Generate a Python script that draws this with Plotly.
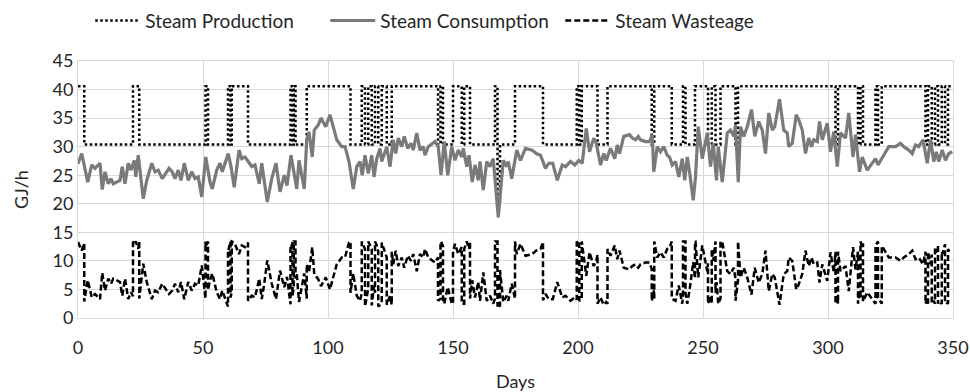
import plotly.graph_objects as go

HI = 40.6
LO = 30.4

# Steam production: level changes (step function, value holds until next day listed)
prod_days = [0, 2.5, 22, 24.5, 51, 52, 60, 61, 61.5, 68, 85, 85.8, 86.3, 87, 91.5, 109,
             113.5, 114.8, 116.1, 117.5, 118.8, 120.1, 121.5, 123.5, 125.5, 144, 145, 146,
             150, 153.5, 154.5, 156.8, 166.8, 167.8, 168.8, 174.8, 186, 199.5, 200.5, 201.5,
             207.8, 211.8, 229.5, 230.5, 237.5, 242, 243, 246.8, 252, 253.5, 255, 257, 263,
             264, 303, 304, 312, 313, 314, 319, 320, 321.5, 339, 340, 341.5, 342.8, 344,
             345.5, 346.8, 348, 350]
prod_vals = [HI, LO, HI, LO, HI, LO, HI, LO, HI, LO, HI, LO, HI, LO, HI, LO,
             HI, LO, HI, LO, HI, LO, HI, LO, HI, LO, HI, LO,
             HI, LO, HI, LO, HI, 20.0, LO, HI, LO, HI, LO, HI,
             LO, HI, LO, HI, LO, HI, LO, HI, LO, HI, LO, HI, LO,
             HI, LO, HI, LO, HI, LO, HI, LO, HI, LO, HI, LO, HI, LO,
             HI, LO, HI, HI]

# Steam consumption
cons_days = [0.0, 1.5, 3.9, 5.5, 6.8, 8.8, 9.7, 10.8, 12.1, 13.2, 14.1, 15.5, 16.8, 17.7, 18.8,
             20.1, 21.2, 22.5, 23.1, 24.1, 26.1, 27.5, 29.5, 30.8, 32.1, 33.7, 35.1, 36.4, 37.7,
             38.8, 40.1, 41.2, 42.5, 44.1, 45.5, 46.8, 48.1, 49.5, 51.1, 52.8, 53.7, 55.5, 56.8,
             57.7, 60.1, 61.2, 62.5, 64.4, 65.5, 66.8, 68.1, 69.5, 70.8, 72.5, 73.5, 74.5, 75.7,
             77.5, 79.2, 80.8, 82.5, 83.6, 85.2, 87.5, 88.4, 90.5, 91.5, 92.4, 93.7, 94.5, 96.1,
             97.2, 99.1, 100.8, 101.7, 103.5, 105.5, 106.8, 108.4, 110.1, 111.5, 112.8, 113.7,
             114.8, 116.1, 117.5, 118.4, 119.5, 120.8, 121.5, 123.5, 124.8, 126.1, 127.1, 128.1,
             129.5, 130.5, 131.9, 133.2, 134.1, 135.5, 136.8, 138.1, 138.8, 140.1, 142.8, 144.1,
             145.2, 146.5, 147.9, 149.5, 150.8, 152.1, 153.5, 154.1, 155.5, 156.4, 157.7, 158.8,
             160.1, 160.8, 162.1, 163.5, 164.8, 166.1, 168.1, 170.1, 171.5, 172.1, 173.5, 175.5,
             177.0, 179.0, 181.7, 183.3, 185.0, 187.0, 188.3, 189.9, 191.7, 193.7, 195.0, 197.0,
             198.7, 200.3, 201.7, 203.3, 204.6, 206.3, 207.3, 209.0, 210.3, 211.3, 213.0, 214.7,
             215.7, 216.6, 218.3, 220.6, 221.7, 223.0, 224.1, 225.0, 227.0, 228.6, 229.7, 230.3,
             231.7, 233.0, 234.3, 235.7, 236.6, 237.7, 239.0, 240.3, 241.7, 242.7, 243.7, 244.6,
             246.1, 247.0, 248.1, 249.7, 251.7, 253.0, 254.1, 255.4, 256.1, 257.7, 259.7, 261.0,
             262.3, 263.0, 264.1, 265.0, 266.3, 267.7, 269.4, 270.7, 272.3, 273.7, 275.0, 276.3,
             277.7, 278.7, 280.6, 282.3, 283.7, 284.3, 285.7, 287.3, 288.3, 289.7, 291.0, 292.3,
             293.4, 294.3, 295.7, 296.6, 297.7, 299.7, 301.0, 302.3, 303.7, 305.0, 307.0, 308.3,
             310.0, 311.0, 312.6, 313.7, 315.7, 319.0, 320.0, 322.3, 324.3, 327.0, 329.0, 330.3,
             332.3, 333.7, 335.0, 336.3, 338.0, 339.7, 341.0, 342.3, 343.3, 344.3, 345.7, 347.0,
             348.3, 349.7]
cons_vals = [27.0, 28.8, 23.8, 26.8, 26.2, 27.1, 22.5, 25.6, 23.5, 24.4, 23.5, 23.8, 24.1, 26.5, 23.5,
             27.1, 25.9, 27.6, 24.7, 28.5, 20.9, 24.1, 27.1, 25.6, 25.9, 24.4, 25.3, 26.2, 25.6,
             24.4, 25.9, 24.1, 27.1, 24.1, 25.6, 24.4, 24.7, 21.2, 28.2, 23.8, 22.6, 25.9, 27.1,
             25.6, 28.8, 26.5, 22.9, 29.4, 27.9, 28.2, 27.4, 26.5, 26.8, 23.5, 27.1, 24.4, 20.3,
             24.4, 27.1, 22.1, 25.0, 23.2, 28.5, 22.6, 27.6, 22.6, 31.2, 32.6, 28.2, 32.9, 33.8,
             35.0, 33.5, 35.6, 34.1, 31.2, 30.0, 30.0, 27.4, 22.6, 26.5, 27.4, 25.0,
             28.5, 25.3, 28.5, 24.7, 27.9, 29.7, 27.4, 30.0, 26.5, 31.2, 28.8, 31.5,
             30.0, 31.8, 29.7, 30.6, 29.4, 32.4, 29.4, 30.0, 28.5, 30.0, 30.9, 30.0,
             25.0, 30.9, 25.0, 30.0, 27.6, 29.4, 28.2, 29.7, 26.5, 28.5, 23.8, 26.8,
             24.1, 27.4, 22.4, 27.4, 26.5, 27.9, 17.6, 27.6, 26.5, 27.4, 24.4, 29.4,
             27.6, 29.7, 29.4, 28.8, 28.5, 26.2, 27.1, 27.1, 24.1, 26.8, 26.5, 27.4,
             26.8, 27.6, 27.1, 33.2, 29.1, 31.5, 30.6, 26.8, 28.8, 27.6, 29.7, 27.9,
             30.3, 28.8, 31.8, 32.1, 31.5, 31.2, 31.8, 31.2, 30.9, 30.9, 32.1, 25.6,
             30.0, 29.1, 30.0, 28.5, 28.2, 26.8, 27.4, 24.7, 27.9, 24.1, 28.2, 25.6,
             20.6, 24.7, 33.5, 27.9, 32.4, 26.5, 30.6, 24.1, 30.0, 23.8, 32.4, 32.9,
             31.8, 33.8, 23.8, 33.5, 31.8, 33.5, 36.5, 31.8, 34.4, 32.9, 28.8, 35.9,
             32.9, 33.5, 38.3, 32.9, 32.4, 30.0, 30.6, 35.6, 34.7, 32.9, 28.8, 31.5,
             30.0, 31.2, 30.9, 34.4, 31.2, 34.1, 29.1, 32.6, 26.5, 32.4, 31.5, 35.9,
             28.2, 32.1, 25.6, 28.2, 25.9, 27.9, 26.8, 28.5, 30.0, 30.0, 30.6, 30.0,
             29.4, 28.8, 30.3, 30.0, 31.2, 27.1, 31.2, 27.4, 29.1, 27.4, 29.4, 27.6,
             28.8, 29.1]

# Steam wastage
wast_days = [0, 1.5, 2.5, 2.5, 3.9, 5.5, 6.8, 8.8, 9.7, 10.8, 12.1, 13.2, 14.1, 15.5, 16.8, 17.7,
             18.8, 20.1, 21.2, 22, 22, 22.5, 23.1, 24.1, 24.5, 24.5, 26.1, 27.5, 29.5, 30.8, 32.1,
             33.7, 35.1, 36.4, 37.7, 38.8, 40.1, 41.2, 42.5, 44.1, 45.5, 46.8, 48.1, 49.5, 51, 51,
             51.1, 52, 52, 52.8, 53.7, 55.5, 56.8, 57.7, 60, 60, 60.1, 61, 61, 61.2, 61.5, 61.5,
             62.5, 64.4, 65.5, 66.8, 68, 68, 69.5, 70.8, 72.5, 73.5, 74.5, 75.7, 77.5, 79.2, 80.8,
             82.5, 83.6, 85, 85, 85.2, 85.8, 85.8, 86.3, 86.3, 87, 87, 87.5, 88.4, 90.5, 91.5, 91.5,
             92.4, 93.7, 94.5, 96.1, 97.2, 99.1, 100.8, 101.7, 103.5, 105.5, 106.8, 108.4, 109, 109,
             110.1, 111.5, 112.8, 113.5, 113.5, 114.8, 114.8, 116.1, 116.1, 117.5, 117.5, 118.4,
             118.8, 118.8, 119.5, 120.1, 120.1, 120.8, 121.5, 121.5, 123.5, 123.5, 124.8, 125.5,
             125.5, 126.1, 127.1, 128.1, 129.5, 130.5, 131.9, 133.2, 134.1, 135.5, 136.8, 138.1,
             138.8, 140.1, 142.8, 144, 144, 145, 145, 145.2, 146, 146, 146.5, 147.9, 149.5, 150,
             150, 150.8, 152.1, 153.5, 153.5, 154.1, 154.5, 154.5, 155.5, 156.4, 156.8, 156.8,
             157.7, 158.8, 160.1, 160.8, 162.1, 163.5, 164.8, 166.1, 166.8, 166.8, 167.8, 167.8,
             168.1, 168.8, 168.8, 170.1, 171.5, 172.1, 173.5, 174.8, 174.8, 175.5, 177, 179, 181.7,
             183.3, 185, 186, 186, 187, 188.3, 189.9, 191.7, 193.7, 195, 197, 198.7, 199.5, 199.5,
             200.3, 200.5, 200.5, 201.5, 201.5, 203.3, 204.6, 206.3, 207.3, 207.8, 207.8, 209,
             210.3, 211.3, 211.8, 211.8, 213, 214.7, 215.7, 216.6, 218.3, 220.6, 221.7, 223, 224.1,
             225, 227, 228.6, 229.5, 229.5, 230.3, 230.5, 230.5, 231.7, 233, 234.3, 235.7, 236.6,
             237.5, 237.5, 239, 240.3, 241.7, 242, 242, 242.7, 243, 243, 243.7, 244.6, 246.1,
             246.8, 246.8, 247, 248.1, 249.7, 251.7, 252, 252, 253, 253.5, 253.5, 254.1, 255, 255,
             255.4, 256.1, 257, 257, 257.7, 259.7, 261, 262.3, 263, 263, 264, 264, 265, 266.3,
             267.7, 269.4, 270.7, 272.3, 273.7, 275, 276.3, 277.7, 278.7, 280.6, 282.3, 283.7,
             284.3, 285.7, 287.3, 288.3, 289.7, 291, 292.3, 293.4, 294.3, 295.7, 296.6, 297.7,
             299.7, 301, 302.3, 303, 303, 303.7, 304, 304, 305, 307, 308.3, 310, 311, 312, 312,
             312.6, 313, 313, 313.7, 314, 314, 315.7, 319, 319, 320, 320, 321.5, 321.5, 322.3,
             324.3, 327, 329, 330.3, 332.3, 333.7, 335, 336.3, 338, 339, 339, 339.7, 340, 340, 341,
             341.5, 341.5, 342.3, 342.8, 342.8, 343.3, 344, 344, 344.3, 345.5, 345.5, 345.7, 346.8,
             346.8, 347, 348, 348, 348.3, 349.7]
wast_vals = [13.3, 11.8, 13.1, 2.9, 6.6, 3.6, 4.2, 3.3, 7.9, 4.8, 6.9, 6.0, 6.9, 6.6, 6.3, 3.9,
             6.9, 3.3, 4.5, 3.8, 13.4, 13.0, 13.4, 12.1, 13.4, 3.4, 9.5, 6.3, 3.3, 4.8, 4.5,
             6.0, 5.1, 4.2, 4.8, 6.0, 4.5, 6.3, 3.3, 6.3, 4.8, 6.0, 5.7, 9.2, 3.4, 13.4,
             12.4, 13.4, 4.9, 6.6, 7.8, 4.5, 3.3, 4.8, 2.0, 11.9, 11.8, 13.4, 3.6, 3.9, 4.9, 13.4,
             13.2, 11.2, 12.7, 12.4, 13.2, 3.0, 3.9, 3.6, 6.9, 3.3, 6.0, 10.1, 6.0, 3.3, 8.3,
             5.4, 7.2, 2.4, 12.6, 12.1, 13.4, 3.9, 5.4, 13.4, 13.4, 6.9, 7.8, 2.8, 7.8, 3.4, 9.4,
             8.0, 12.4, 7.7, 6.8, 5.6, 7.1, 5.0, 6.5, 9.4, 10.6, 10.6, 13.2, 13.4, 4.4,
             7.8, 3.9, 3.0, 4.4, 13.4, 12.1, 2.0, 5.1, 13.4, 12.1, 2.2, 5.7,
             4.4, 13.4, 12.7, 11.6, 2.0, 2.3, 3.0, 13.2, 10.6, 2.3, 3.9, 2.3,
             11.6, 9.4, 11.8, 9.1, 10.6, 8.8, 10.9, 10.0, 11.2, 8.2, 11.2, 10.6,
             12.1, 10.6, 9.7, 10.6, 3.0, 3.4, 13.4, 13.4, 12.6, 2.8, 2.5, 5.4, 2.5, 2.5,
             11.6, 13.0, 11.2, 12.4, 2.5, 2.5, 2.5, 12.1, 13.4, 12.1, 13.4, 3.4,
             6.6, 3.6, 6.3, 3.0, 8.0, 3.0, 3.9, 2.5, 3.4, 13.4, 13.4, 2.0,
             2.4, 2.0, 8.4, 2.8, 3.9, 3.0, 6.0, 3.4, 13.4, 11.2, 13.0, 10.9, 11.2,
             11.8, 12.1, 13.3, 3.1, 4.2, 3.3, 3.3, 6.3, 3.6, 3.9, 3.0, 3.6, 3.2, 13.4,
             13.0, 13.2, 3.0, 3.3, 13.4, 7.4, 11.5, 9.1, 10.0, 11.1, 2.5, 3.6,
             2.3, 2.8, 2.5, 12.1, 10.9, 12.7, 10.3, 11.8, 8.8, 8.5, 9.1, 9.4, 8.8,
             9.4, 9.7, 9.7, 8.6, 3.0, 4.8, 3.4, 13.4, 10.6, 11.5, 10.6, 12.1, 12.4,
             13.4, 3.4, 3.0, 5.7, 2.5, 3.9, 13.4, 13.4, 13.4, 4.4, 2.5, 4.8, 9.8,
             6.9, 13.4, 13.4, 7.1, 12.7, 8.2, 9.6, 2.5, 3.9, 2.5, 12.1, 10.0, 13.4, 4.4,
             6.3, 2.5, 3.4, 13.4, 13.4, 8.2, 7.7, 8.8, 6.8, 3.0, 6.6, 13.4, 7.1, 8.8,
             7.1, 4.1, 8.8, 6.2, 7.7, 11.8, 4.7, 7.7, 7.1, 2.3, 7.7, 8.2,
             10.6, 10.0, 5.0, 5.9, 7.7, 11.8, 9.1, 10.6, 9.4, 9.7, 6.2, 9.4,
             6.5, 11.5, 8.0, 11.6, 2.5, 3.9, 2.5, 11.6, 8.2, 9.1, 4.7, 12.4, 8.5, 11.6, 2.5,
             4.8, 3.4, 13.4, 12.4, 13.1, 2.9, 4.5, 2.5, 12.7, 13.4, 3.6, 2.5, 12.6, 12.1,
             10.6, 10.6, 10.0, 10.6, 11.2, 11.8, 10.3, 10.6, 9.4, 11.6, 2.5, 3.3, 2.5, 11.6, 9.4,
             11.1, 2.5, 3.0, 2.5, 12.3, 11.5, 12.6, 2.5, 3.0, 2.5, 11.6, 11.2, 12.9,
             2.7, 2.8, 2.5, 12.1, 11.8, 11.5]

x_ticks = [0, 50, 100, 150, 200, 250, 300, 350]
y_ticks = [0, 5, 10, 15, 20, 25, 30, 35, 40, 45]

FONT = "Lato, 'Open Sans', sans-serif"
TXT = "#262626"
GRID = "#d9d9d9"

fig = go.Figure()
fig.add_trace(go.Scatter(x=prod_days, y=prod_vals, mode="lines", name="Steam Production",
                         line=dict(color="#000000", width=2.5, dash="2.5px,2.5px", shape="hv")))
fig.add_trace(go.Scatter(x=cons_days, y=cons_vals, mode="lines", name="Steam Consumption",
                         line=dict(color="#7a7a7a", width=3.2)))
fig.add_trace(go.Scatter(x=wast_days, y=wast_vals, mode="lines", name="Steam Wasteage",
                         line=dict(color="#000000", width=2.5, dash="6px,3px")))

fig.update_layout(
    width=970, height=392,
    margin=dict(l=78, r=17, t=61, b=74, autoexpand=False),
    paper_bgcolor="white", plot_bgcolor="white",
    font=dict(family=FONT, size=18, color=TXT),
    showlegend=True,
    legend=dict(orientation="h", x=0.014, xanchor="left", y=1.231, yanchor="top",
                font=dict(size=19, color=TXT), bgcolor="rgba(0,0,0,0)",
                itemwidth=45, entrywidth=175, tracegroupgap=0),
    xaxis=dict(range=[0, 350], tickvals=x_ticks, ticks="", showgrid=True, gridcolor=GRID,
               gridwidth=1, zeroline=False, showline=True, linecolor=GRID, mirror=True,
               automargin=False, ticklabelstandoff=13,
               tickfont=dict(size=18, color=TXT), title=dict(text="Days", font=dict(size=18), standoff=23)),
    yaxis=dict(range=[0, 45], tickvals=y_ticks, ticks="", showgrid=True, gridcolor=GRID,
               gridwidth=1, zeroline=False, showline=True, linecolor=GRID, mirror=True,
               automargin=False,
               tickfont=dict(size=18, color=TXT), title=dict(text="GJ/h", font=dict(size=18), standoff=19)),
)

# remove the browser's default 8px page margin so the 970x392 figure fills the window exactly
fig.write_html("out.html", config={"displayModeBar": False},
               post_script="document.body.style.margin='0';")
